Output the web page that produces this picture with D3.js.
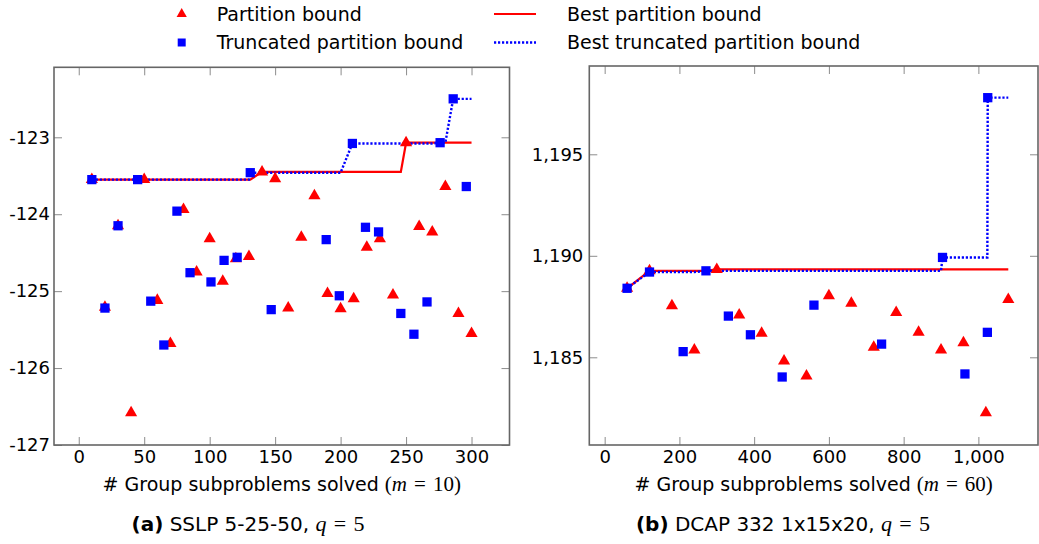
<!DOCTYPE html>
<html>
    <head>
        <meta charset="utf-8">
        <style>
            body { margin: 0; background: #fff; }
            text { font-family: "DejaVu Sans", sans-serif; fill: #000; }
            .math { font-family: "Liberation Serif", serif; }
        </style>
    </head>
    <body>
        <svg></svg>
        <script src="https://d3js.org/d3.v7.min.js"></script>
        <script>
            // SSLP 5-25-50 (left panel)
            const sslpPartitionX = [10, 20, 30, 40, 50, 60, 70, 80, 90, 100, 110, 120, 130, 140, 150,
                                    160, 170, 180, 190, 200, 210, 220, 230, 240, 250, 260, 270, 280, 290, 300];
            const sslpPartitionY = [-123.55, -125.21, -124.15, -126.58, -123.55, -125.12, -125.68, -123.94, -124.75, -124.32,
                                    -124.87, -124.58, -124.55, -123.45, -123.54, -125.22, -124.30, -123.76, -125.03, -125.23,
                                    -125.10, -124.43, -124.32, -125.05, -123.07, -124.16, -124.23, -123.64, -125.29, -125.55];
            const sslpTruncX = [10, 20, 30, 45, 55, 65, 75, 85, 101, 111, 121, 131, 147, 189, 199,
                                209, 219, 229, 246, 256, 266, 276, 286, 296];
            const sslpTruncY = [-123.55, -125.22, -124.15, -123.55, -125.13, -125.70, -123.96, -124.76, -124.88, -124.60,
                                -124.56, -123.46, -125.24, -124.33, -125.06, -123.08, -124.17, -124.23, -125.29, -125.56,
                                -125.14, -123.07, -122.50, -123.64];
            const sslpXTicks = [0, 50, 100, 150, 200, 250, 300];
            const sslpYTicks = [-127, -126, -125, -124, -123];

            // DCAP 332 1x15x20 (right panel)
            const dcapPartitionX = [60, 120, 180, 240, 300, 360, 420, 480, 540, 600, 660, 720, 780, 840, 900, 960, 1020, 1080];
            const dcapPartitionY = [1188.40, 1189.26, 1187.54, 1185.36, 1189.33, 1187.08, 1186.18, 1184.82, 1184.08,
                                    1188.03, 1187.66, 1185.49, 1187.21, 1186.23, 1185.36, 1185.72, 1182.27, 1187.85];
            const dcapTruncX = [60, 120, 210, 271, 331, 390, 475, 560, 741, 904, 964, 1024, 1025];
            const dcapTruncY = [1188.40, 1189.20, 1185.28, 1189.26, 1187.03, 1186.11, 1184.03, 1187.57, 1185.65,
                                1189.92, 1184.18, 1186.23, 1197.79];
            const dcapXTicks = [0, 200, 400, 600, 800, 1000];
            const dcapYTicks = [1185, 1190, 1195];

            const legendLabels = ["Partition bound", "Truncated partition bound",
                                  "Best partition bound", "Best truncated partition bound"];

            const width = 1039;
            const height = 544;
            const red = "#ff0000";
            const blue = "#0000ff";
            const fmt = d3.formatLocale({decimal: ".", thousands: ",", grouping: [3], currency: ["", ""], minus: "-"}).format(",");

            const svg = d3.select("svg").attr("width", width).attr("height", height);

            const panels = [
                {
                    partX: sslpPartitionX, partY: sslpPartitionY, truncX: sslpTruncX, truncY: sslpTruncY,
                    xTicks: sslpXTicks, yTicks: sslpYTicks,
                    box: {l: 54, r: 509.5, t: 67.3, b: 445},
                    xDomain: [-18.9, 329], yDomain: [-127, -122.09], yPad: 4,
                    m: "10", tag: "(a)", name: " SSLP 5-25-50, ", captionX: 248
                },
                {
                    partX: dcapPartitionX, partY: dcapPartitionY, truncX: dcapTruncX, truncY: dcapTruncY,
                    xTicks: dcapXTicks, yTicks: dcapYTicks,
                    box: {l: 589.3, r: 1038, t: 66, b: 445},
                    xDomain: [-41.1, 1159.5], yDomain: [1180.68, 1199.35], yPad: 6,
                    m: "60", tag: "(b)", name: " DCAP 332 1x15x20, ", captionX: 783
                }
            ];

            drawLegend();
            panels.forEach(drawPanel);

            // running best value over every x where either series was evaluated
            function bestLine(xs, ys, allX) {
                const pts = [];
                allX.forEach(x => {
                    let best = -Infinity;
                    xs.forEach((v, i) => { if (v <= x && ys[i] > best) best = ys[i]; });
                    if (best > -Infinity) pts.push([x, best]);
                });
                return pts;
            }

            function drawPanel(p) {
                const x = d3.scaleLinear().domain(p.xDomain).range([p.box.l, p.box.r]);
                const y = d3.scaleLinear().domain(p.yDomain).range([p.box.b, p.box.t]);
                const g = svg.append("g");

                const tickStyle = sel => {
                    sel.select(".domain").remove();
                    sel.selectAll(".tick line").attr("stroke", "#8c8c8c").attr("stroke-width", 1);
                    sel.selectAll(".tick text").style("font-size", "18px").attr("fill", "#000");
                };

                g.append("g").attr("transform", `translate(0,${p.box.b})`)
                    .call(d3.axisBottom(x).tickValues(p.xTicks).tickSize(-8).tickPadding(5).tickFormat(fmt))
                    .call(tickStyle);
                g.append("g").attr("transform", `translate(0,${p.box.t})`)
                    .call(d3.axisTop(x).tickValues(p.xTicks).tickSize(-8).tickFormat(""))
                    .call(tickStyle);
                g.append("g").attr("transform", `translate(${p.box.l},0)`)
                    .call(d3.axisLeft(y).tickValues(p.yTicks).tickSize(-8).tickPadding(p.yPad).tickFormat(fmt))
                    .call(tickStyle);
                g.append("g").attr("transform", `translate(${p.box.r},0)`)
                    .call(d3.axisRight(y).tickValues(p.yTicks).tickSize(-8).tickFormat(""))
                    .call(tickStyle);

                g.append("rect")
                    .attr("x", p.box.l).attr("y", p.box.t)
                    .attr("width", p.box.r - p.box.l).attr("height", p.box.b - p.box.t)
                    .attr("fill", "none").attr("stroke", "#666").attr("stroke-width", 1.6);

                const allX = Array.from(new Set(p.partX.concat(p.truncX))).sort((a, b) => a - b);
                const line = d3.line().x(d => x(d[0])).y(d => y(d[1]));

                g.append("path")
                    .datum(bestLine(p.partX, p.partY, allX))
                    .attr("d", line)
                    .attr("fill", "none").attr("stroke", red).attr("stroke-width", 2.2);
                g.append("path")
                    .datum(bestLine(p.truncX, p.truncY, allX))
                    .attr("d", line)
                    .attr("fill", "none").attr("stroke", blue).attr("stroke-width", 2.4)
                    .attr("stroke-dasharray", "2.2,1.8");

                const tri = d3.symbol().type(d3.symbolTriangle).size(64);
                const sq = d3.symbol().type(d3.symbolSquare).size(86);

                g.selectAll(".part")
                    .data(p.partX.map((v, i) => [v, p.partY[i]]))
                    .enter().append("path")
                    .attr("class", "part")
                    .attr("d", tri)
                    .attr("transform", d => `translate(${x(d[0])},${y(d[1])})`)
                    .attr("fill", red);

                g.selectAll(".trunc")
                    .data(p.truncX.map((v, i) => [v, p.truncY[i]]))
                    .enter().append("path")
                    .attr("class", "trunc")
                    .attr("d", sq)
                    .attr("transform", d => `translate(${x(d[0])},${y(d[1])})`)
                    .attr("fill", blue);

                const cx = (p.box.l + p.box.r) / 2;
                const label = g.append("text")
                    .attr("x", cx).attr("y", 491)
                    .attr("text-anchor", "middle")
                    .style("font-size", "19px");
                label.append("tspan").text("# Group subproblems solved ");
                label.append("tspan").attr("class", "math").style("font-size", "21px").text("(");
                label.append("tspan").attr("class", "math").style("font-size", "21px").style("font-style", "italic").text("m");
                label.append("tspan").attr("class", "math").style("font-size", "21px").text("\u2004=\u2004" + p.m + ")");

                const cap = g.append("text")
                    .attr("x", p.captionX).attr("y", 531)
                    .attr("text-anchor", "middle")
                    .style("font-size", "20px");
                cap.append("tspan").style("font-weight", "bold").text(p.tag);
                cap.append("tspan").text(p.name);
                cap.append("tspan").attr("class", "math").style("font-size", "22px").style("font-style", "italic").text("q");
                cap.append("tspan").attr("class", "math").style("font-size", "22px").text("\u2004=\u2004" + "5");
            }

            function drawLegend() {
                const lg = svg.append("g");
                const rows = [14, 42.5];

                lg.append("path")
                    .attr("d", d3.symbol().type(d3.symbolTriangle).size(45))
                    .attr("transform", `translate(181.7,${rows[0]})`)
                    .attr("fill", red);
                lg.append("path")
                    .attr("d", d3.symbol().type(d3.symbolSquare).size(64))
                    .attr("transform", `translate(181.7,${rows[1]})`)
                    .attr("fill", blue);
                lg.append("line")
                    .attr("x1", 494).attr("x2", 536).attr("y1", rows[0]).attr("y2", rows[0])
                    .attr("stroke", red).attr("stroke-width", 2.2);
                lg.append("line")
                    .attr("x1", 494).attr("x2", 536).attr("y1", rows[1]).attr("y2", rows[1])
                    .attr("stroke", blue).attr("stroke-width", 2.4).attr("stroke-dasharray", "2.2,1.8");

                lg.selectAll("text")
                    .data(legendLabels)
                    .enter().append("text")
                    .attr("x", (d, i) => i < 2 ? 216.7 : 567)
                    .attr("y", (d, i) => rows[i % 2])
                    .attr("dy", "0.35em")
                    .style("font-size", "19px")
                    .text(d => d);
            }
        </script>
    </body>
</html>
